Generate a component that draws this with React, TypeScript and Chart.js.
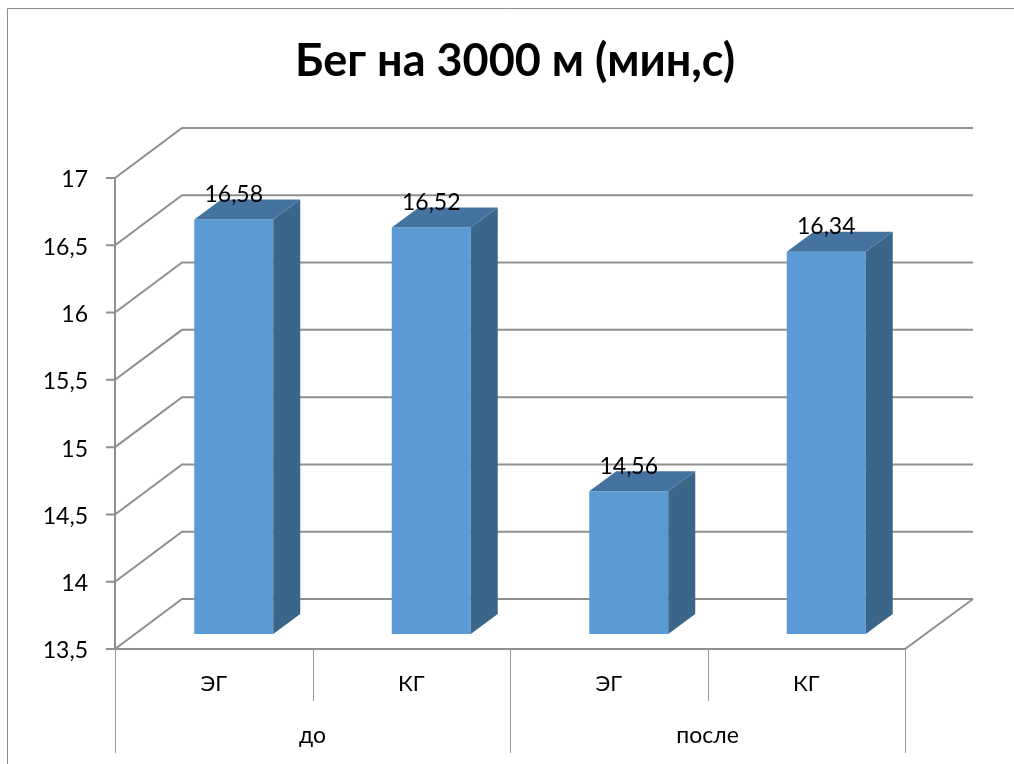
import React, { useEffect, useRef } from "react";
import { Chart, registerables } from "chart.js";

Chart.register(...registerables);

const categories = ["ЭГ", "КГ", "ЭГ", "КГ"];
const groups = ["до", "после"];
const values = [16.58, 16.52, 14.56, 16.34];
const valueLabels = ["16,58", "16,52", "14,56", "16,34"];
const titleText = "Бег на 3000 м (мин,с)";

const FONT = "Lato, 'Open Sans', sans-serif";
const GRID = "#8f8f8f";
const WALL = { dx: 67, dy: -50 };
const BAR_SHIFT = { dx: 20, dy: -15 };
const BAR_DEPTH = { dx: 27, dy: -20 };

const scenePlugin = {
  id: "scene3d",
  beforeDatasetsDraw(chart: any) {
    const { ctx, scales } = chart;
    const { x, y, x2 } = scales;
    const L = x.left, R = x.right, B = y.bottom;
    ctx.save();
    // outer frame
    ctx.strokeStyle = "#8c8c8c";
    ctx.lineWidth = 1;
    ctx.beginPath();
    ctx.moveTo(7.5, chart.height);
    ctx.lineTo(7.5, 8.5);
    ctx.lineTo(chart.width, 8.5);
    ctx.stroke();
    // wall gridlines
    ctx.strokeStyle = GRID;
    ctx.lineWidth = 2;
    y.ticks.forEach((t: any) => {
      const py = y.getPixelForValue(t.value);
      ctx.beginPath();
      ctx.moveTo(L - 9, py);
      ctx.lineTo(L, py);
      ctx.lineTo(L + WALL.dx, py + WALL.dy);
      ctx.lineTo(R + WALL.dx + 1, py + WALL.dy);
      ctx.stroke();
    });
    // floor edge and axes
    ctx.beginPath();
    ctx.moveTo(L, y.top);
    ctx.lineTo(L, B);
    ctx.lineTo(R, B);
    ctx.lineTo(R + WALL.dx + 1, B + WALL.dy);
    ctx.stroke();
    // category separators
    ctx.lineWidth = 1;
    ctx.strokeStyle = "#9a9a9a";
    const half = (x.getPixelForValue(1) - x.getPixelForValue(0)) / 2;
    for (let i = 0; i <= categories.length; i++) {
      const px = Math.round(x.getPixelForValue(0) - half + i * half * 2) + 0.5;
      ctx.beginPath();
      ctx.moveTo(px, B);
      ctx.lineTo(px, i % 2 === 0 ? x2.bottom : x.bottom);
      ctx.stroke();
    }
    ctx.restore();
    // bars' front faces are drawn shifted back to mid-depth
    ctx.save();
    ctx.translate(BAR_SHIFT.dx, BAR_SHIFT.dy);
  },
  afterDatasetsDraw(chart: any) {
    const { ctx, scales } = chart;
    ctx.restore();
    const meta = chart.getDatasetMeta(0);
    ctx.save();
    meta.data.forEach((bar: any, i: number) => {
      const w = bar.width / 2;
      const l = bar.x - w + BAR_SHIFT.dx;
      const r = bar.x + w + BAR_SHIFT.dx;
      const t = bar.y + BAR_SHIFT.dy;
      const b = scales.y.bottom + BAR_SHIFT.dy;
      const { dx, dy } = BAR_DEPTH;
      ctx.fillStyle = "#3a6689";
      ctx.beginPath();
      ctx.moveTo(r, t);
      ctx.lineTo(r + dx, t + dy);
      ctx.lineTo(r + dx, b + dy);
      ctx.lineTo(r, b);
      ctx.closePath();
      ctx.fill();
      ctx.fillStyle = "#44739f";
      ctx.beginPath();
      ctx.moveTo(l, t);
      ctx.lineTo(l + dx, t + dy);
      ctx.lineTo(r + dx, t + dy);
      ctx.lineTo(r, t);
      ctx.closePath();
      ctx.fill();
      ctx.fillStyle = "#000";
      ctx.font = `23px ${FONT}`;
      ctx.textAlign = "center";
      ctx.textBaseline = "middle";
      ctx.fillText(valueLabels[i], bar.x + BAR_SHIFT.dx, t - 25);
    });
    ctx.restore();
  },
};

export default function App() {
  const ref = useRef<HTMLCanvasElement>(null);
  useEffect(() => {
    if (!ref.current) return;
    const chart = new Chart(ref.current, {
      type: "bar",
      data: {
        labels: categories,
        datasets: [
          {
            data: values,
            backgroundColor: "#5b9bd5",
            barPercentage: 0.4,
            categoryPercentage: 1,
          },
        ],
      },
      plugins: [scenePlugin],
      options: {
        animation: false,
        responsive: false,
        devicePixelRatio: 1,
        layout: { padding: { left: 16, right: 0, top: 0, bottom: 11 } },
        plugins: {
          legend: { display: false },
          tooltip: { enabled: false },
          title: {
            display: true,
            text: titleText,
            color: "#000",
            font: { family: FONT, size: 45, weight: "bold" },
            padding: { top: 34, bottom: 90 },
          },
        },
        scales: {
          y: {
            min: 13.5,
            max: 17,
            position: "left",
            grid: { display: false },
            border: { display: false },
            ticks: {
              stepSize: 0.5,
              color: "#000",
              padding: 19,
              labelOffset: 2,
              font: { family: FONT, size: 23 },
              callback: (v: any) => String(v).replace(".", ","),
            },
            afterFit: (s: any) => {
              s.width = 99;
            },
          },
          yRight: {
            type: "linear",
            position: "right",
            grid: { display: false },
            border: { display: false },
            ticks: { display: false },
            afterFit: (s: any) => {
              s.width = 109;
            },
          },
          x: {
            position: "bottom",
            grid: { display: false },
            border: { display: false },
            ticks: {
              color: "#000",
              padding: 14,
              maxRotation: 0,
              font: { family: FONT, size: 22 },
            },
            afterFit: (s: any) => {
              s.height = 52;
            },
          },
          x2: {
            type: "category",
            position: "bottom",
            labels: groups,
            grid: { display: false },
            border: { display: false },
            ticks: {
              color: "#000",
              padding: 13,
              maxRotation: 0,
              font: { family: FONT, size: 23 },
            },
            afterFit: (s: any) => {
              s.height = 52;
            },
          },
        },
      },
    } as any);
    return () => chart.destroy();
  }, []);
  return (
    <canvas
      ref={ref}
      width={1014}
      height={764}
      style={{ position: "absolute", left: 0, top: 0, width: 1014, height: 764 }}
    />
  );
}
